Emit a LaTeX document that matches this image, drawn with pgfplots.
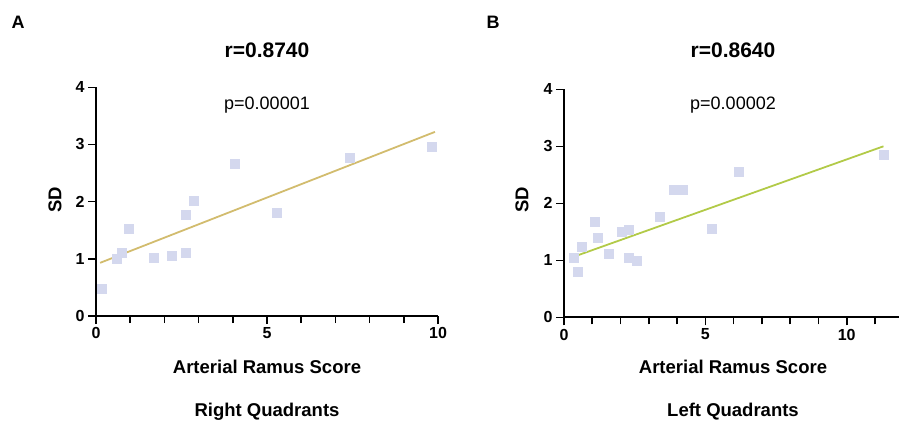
\documentclass[border=0pt]{standalone}
\usepackage{fontspec}
\setmainfont{Liberation Sans}
\usepackage{pgfplots}
\pgfplotsset{compat=1.18}
\definecolor{ptcol}{RGB}{212,216,238}
\definecolor{lineA}{RGB}{210,188,110}
\definecolor{lineB}{RGB}{178,202,72}
\pgfplotsset{
  myax/.style={
    scale only axis,
    axis lines=left,
    axis line style={line width=2pt,-},
    ymin=0, ymax=4,
    ytick={0,1,2,3,4},
    xtick={0,5,10},
    minor xtick={0,1,...,12},
    tick style={line width=1.6pt,black},
    tick align=outside,
    major tick length=8pt,
    minor tick length=7pt,
    /pgf/number format/assume math mode=true,
    ticklabel style={font=\bfseries\fontsize{16}{16}\selectfont},
    clip=false,
  }
}
\begin{document}
\begin{tikzpicture}[x=1pt,y=1pt]
\path[use as bounding box] (0,0) rectangle (899,426);
% Panel A
\begin{axis}[myax, at={(96pt,110pt)}, anchor=south west,
  width=342pt, height=228.7pt, xmin=0, xmax=10]
\addplot[only marks, mark=square*, mark size=4.5pt, mark options={draw=ptcol, fill=ptcol}] coordinates {
(0.18,0.47) (0.60,1.00) (0.75,1.10) (0.97,1.52) (1.68,1.02) (2.21,1.06)
(2.63,1.11) (2.63,1.77) (2.85,2.02) (4.06,2.67) (5.28,1.80) (7.43,2.77) (9.81,2.96)
};
\addplot[lineA, line width=1.8pt] coordinates {(0.12,0.93) (9.91,3.22)};
\end{axis}
% Panel B
\begin{axis}[myax, at={(564pt,108.7pt)}, anchor=south west,
  width=335pt, height=228pt, xmin=0, xmax=11.85]
\addplot[only marks, mark=square*, mark size=4.5pt, mark options={draw=ptcol, fill=ptcol}] coordinates {
(0.33,1.04) (0.48,0.80) (0.62,1.24) (1.10,1.68) (1.18,1.39) (1.57,1.11)
(2.04,1.50) (2.28,1.53) (2.28,1.04) (2.57,1.00) (3.40,1.77) (3.87,2.23)
(4.20,2.23) (5.22,1.56) (6.17,2.55) (11.30,2.86)
};
\addplot[lineB, line width=1.8pt] coordinates {(0.33,1.06) (11.3,3.0)};
\end{axis}
% texts
\node[font=\bfseries\fontsize{18}{18}\selectfont] at (18,404) {A};
\node[font=\bfseries\fontsize{18}{18}\selectfont] at (493,404) {B};
\node[font=\bfseries\fontsize{21}{21}\selectfont] at (267,376) {r=0.8740};
\node[font=\bfseries\fontsize{21}{21}\selectfont] at (733,376) {r=0.8640};
\node[font=\fontsize{18}{18}\selectfont] at (267,321) {p=0.00001};
\node[font=\fontsize{18}{18}\selectfont] at (733,321) {p=0.00002};
\node[font=\bfseries\fontsize{18.5}{18.5}\selectfont] at (267,59) {Arterial Ramus Score};
\node[font=\bfseries\fontsize{18.5}{18.5}\selectfont] at (733,59) {Arterial Ramus Score};
\node[font=\bfseries\fontsize{18.5}{18.5}\selectfont] at (267,14) {Right Quadrants};
\node[font=\bfseries\fontsize{18.5}{18.5}\selectfont] at (733,14) {Left Quadrants};
\node[font=\bfseries\fontsize{18.5}{18.5}\selectfont, rotate=90] at (55,226) {SD};
\node[font=\bfseries\fontsize{18.5}{18.5}\selectfont, rotate=90] at (522,226) {SD};
\end{tikzpicture}
\end{document}
